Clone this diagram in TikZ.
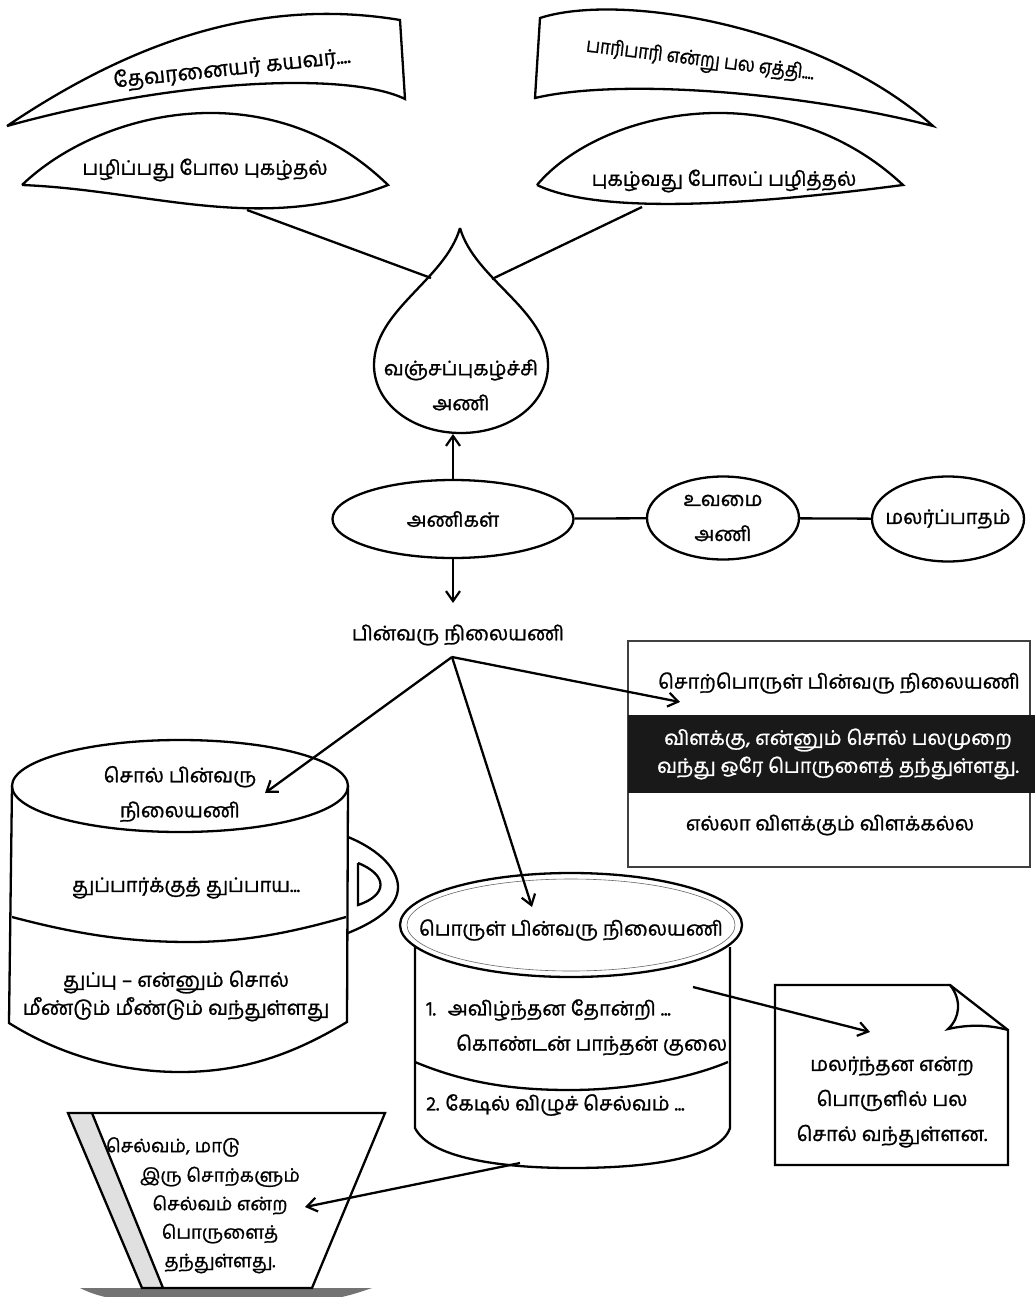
\documentclass[tikz,border=0pt]{standalone}
\usepackage{fontspec}
\setmainfont[Script=Tamil,FakeBold=1.1]{Hind Madurai}
\usetikzlibrary{arrows.meta,shapes.geometric}
\begin{document}
\begin{tikzpicture}[x=1pt,y=-1pt,line width=2.3pt,
  txt/.style={font=\fontsize{20}{28}\selectfont,align=center,inner sep=0pt},
  wide/.style={font=\fontsize{20}{35}\selectfont},
  small/.style={font=\fontsize{18.5}{28.5}\selectfont},
  arr/.style={-{Straight Barb[length=10pt,width=14pt,line width=2.2pt]}},
  oval/.style={draw,ellipse,inner sep=0pt}]
\useasboundingbox (0,0) rectangle (1035,1297);
% top banners
\draw (7,126) .. controls (120,50) and (250,-5) .. (400,20) -- (405,99)
  .. controls (350,72) and (180,78) .. (7,126);
\node[txt,font=\fontsize{21.5}{28}\selectfont,rotate=6] (b1) at (232,69) {தேவரனையர் கயவர்....};
\draw (540,18) .. controls (620,-8) and (820,25) .. (933,126)
  .. controls (800,92) and (620,78) .. (535,98) -- cycle;
\node[txt,rotate=-7] (b2) at (700,61) {\scalebox{0.88}[1]{பாரிபாரி என்று பல ஏத்தி....}};
% leaves
\draw (22,185) .. controls (100,110) and (270,70) .. (388,185)
  .. controls (260,235) and (150,190) .. (22,185);
\node[txt] (l1) at (205,170) {பழிப்பது போல புகழ்தல்};
\draw (537,185) .. controls (600,110) and (780,70) .. (903,185)
  .. controls (750,205) and (600,215) .. (537,185);
\node[txt] (l2) at (724,181) {புகழ்வது போலப் பழித்தல்};
% drop
\draw (460,228) .. controls (445,280) and (374,310) .. (374,365)
  .. controls (374,404) and (413,433) .. (461,433)
  .. controls (509,433) and (548,404) .. (548,365)
  .. controls (548,310) and (475,280) .. (460,228);
\node[txt,wide] (drop) at (461,385) {வஞ்சப்புகழ்ச்சி\\அணி};
\coordinate (dl) at (431,278);
\coordinate (dr) at (492,279);
\coordinate (l1b) at (247,210);
\coordinate (l2b) at (642,207);
\draw (l1b) -- (dl);
\draw (l2b) -- (dr);
% ellipses row
\node[oval,minimum width=241pt,minimum height=78pt] (an) at (453,519) {};
\node[txt] at (an) {அணிகள்};
\node[oval,minimum width=152pt,minimum height=83pt] (uv) at (723,518) {};
\node[txt,wide] at (uv) {உவமை\\அணி};
\node[oval,minimum width=152pt,minimum height=85pt] (ml) at (948,519) {};
\node[txt] at (ml) {மலர்ப்பாதம்};
\coordinate (dropb) at (452,434);
\draw[arr] (an.north) -- (an.north |- dropb);
\draw (an) -- (uv) -- (ml);
\node[txt] (pin) at (458,635) {பின்வரு நிலையணி};
\coordinate (pinb) at (452,603);
\draw[arr] (an.south) -- (an.south |- pinb);
\coordinate (apex) at (452,657);
% right box
\draw[line width=1.4pt,black!75] (628,641) rectangle (1030,867);
\fill[black!90] (628,715) rectangle (1035,793);
\node[txt] (sp) at (839,683) {சொற்பொருள் பின்வரு நிலையணி};
\node[txt,text=white] (sp2) at (838,754) {விளக்கு, என்னும் சொல் பலமுறை\\வந்து ஒரே பொருளைத் தந்துள்ளது.};
\node[txt] (sp3) at (830,825) {எல்லா விளக்கும் விளக்கல்ல};
\coordinate (spt) at (680,702);
\draw[arr] (apex) -- (spt);
% left mug
\draw (180,786) ellipse [x radius=168,y radius=46];
\draw (12,786) -- (9,1023) .. controls (60,1055) and (120,1072) .. (180,1072)
  .. controls (250,1072) and (300,1050) .. (347,1022) -- (348,786);
\draw (12,917) .. controls (80,935) and (130,942) .. (190,942)
  .. controls (250,942) and (300,930) .. (346,917);
\draw (348,837) .. controls (380,850) and (398,870) .. (398,887)
  .. controls (398,905) and (380,920) .. (348,933);
\draw (358,863) -- (358,905) .. controls (388,895) and (388,875) .. (358,863);
\node[txt,wide] (m1) at (180,794) {சொல் பின்வரு\\நிலையணி};
\node[txt] (m2) at (186,888) {துப்பார்க்குத் துப்பாய...};
\node[txt] (m3) at (176,996) {துப்பு – என்னும் சொல்\\மீண்டும் மீண்டும் வந்துள்ளது};
\coordinate (mt) at (265,793);
\draw[arr] (apex) -- (mt);
% middle cylinder
\draw (415,947) -- (415,1128) .. controls (430,1158) and (500,1168) .. (572,1168)
  .. controls (650,1168) and (720,1158) .. (730,1128) -- (730,947);
\draw (415,1062) .. controls (470,1085) and (520,1090) .. (570,1090)
  .. controls (630,1090) and (690,1078) .. (728,1062);
\draw[fill=white] (571,925) ellipse [x radius=171,y radius=52];
\draw[line width=0.6pt,black!60] (571,925) ellipse [x radius=164,y radius=46];
\node[txt] (c1) at (571,930) {பொருள் பின்வரு நிலையணி};
\node[txt,anchor=west] (c2) at (425,1010) {1.\hspace{0.6em}அவிழ்ந்தன தோன்றி ...};
\node[txt,anchor=west] (c3) at (455,1045) {கொண்டன் பாந்தன் குலை};
\node[txt,anchor=west] (c4) at (425,1105) {2.\hspace{0.3em}கேடில் விழுச் செல்வம் ...};
\coordinate (ct) at (532,907);
\draw[arr] (apex) -- (ct);
% note
\draw (775,985) -- (950,985) -- (1008,1030) -- (1008,1165) -- (775,1165) -- cycle;
\draw (950,985) .. controls (962,1000) and (960,1018) .. (948,1029)
  .. controls (970,1024) and (990,1025) .. (1008,1030);
\node[txt,wide] (n1) at (892,1102) {மலர்ந்தன என்ற\\பொருளில் பல\\சொல் வந்துள்ளன.};
\coordinate (c2e) at (693,987);
\coordinate (nt) at (870,1032);
\draw[arr] (c2e) -- (nt);
% trapezoid
\fill[black!55] (80,1288) -- (372,1288) .. controls (355,1294) and (340,1298) .. (330,1299)
  -- (120,1299) .. controls (105,1298) and (92,1294) .. (80,1288) -- cycle;
\fill[black!12] (68,1113) -- (92,1113) -- (163,1288) -- (142,1288) -- cycle;
\draw (68,1113) -- (385,1113) -- (312,1288) -- (142,1288) -- cycle;
\draw (92,1113) -- (163,1288);
\node[txt,small] (t1) at (173,1147) {செல்வம், மாடு};
\node[txt,small] (t2) at (220,1220) {இரு சொற்களும்\\செல்வம் என்ற\\பொருளைத்\\தந்துள்ளது.};
\coordinate (c4e) at (520,1163);
\coordinate (tt) at (305,1207);
\draw[arr] (c4e) -- (tt);
\end{tikzpicture}
\end{document}
